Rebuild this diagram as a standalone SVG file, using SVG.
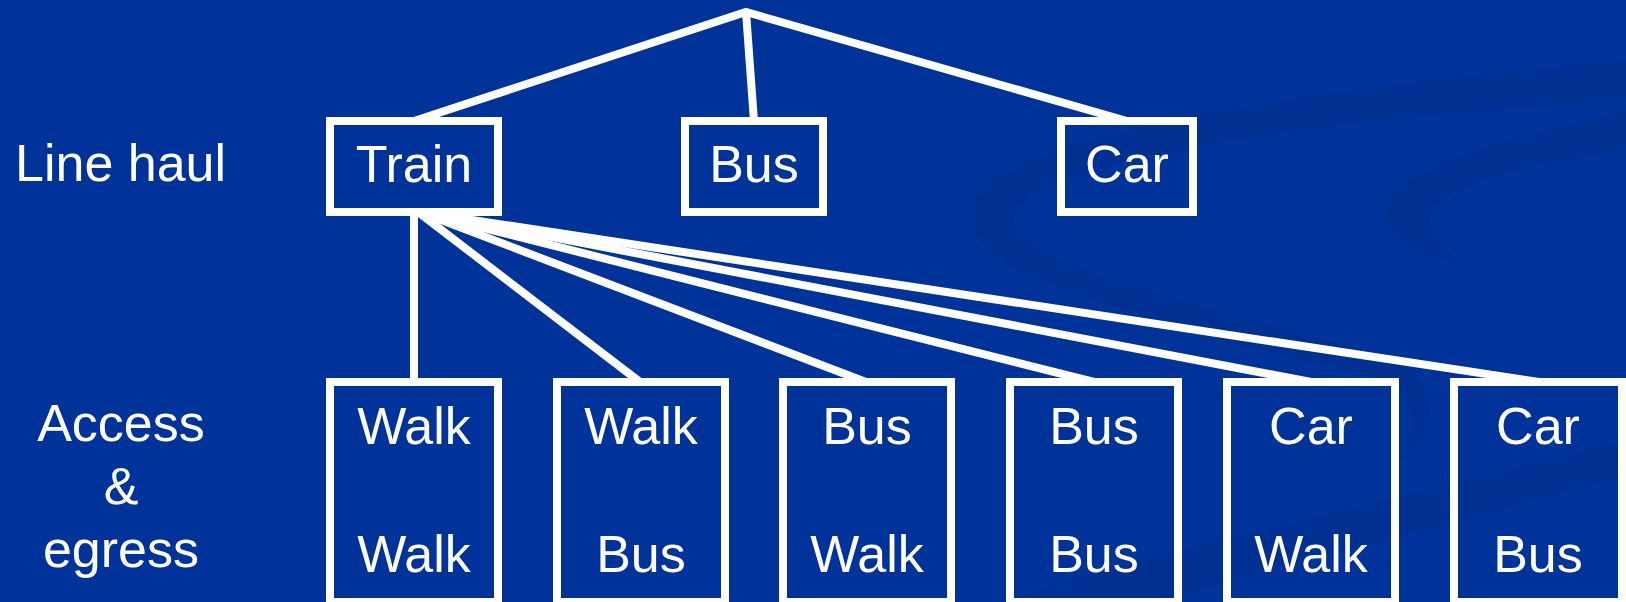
<svg xmlns="http://www.w3.org/2000/svg" width="1626" height="602" viewBox="0 0 1626 602">
<style>
.bg{fill:#003399}
.sw{fill:#00297f;opacity:0.25}
.box{fill:none;stroke:#ffffff;stroke-width:8}
.conn{fill:none;stroke:#ffffff;stroke-width:8;stroke-linejoin:miter}
text{font-family:"Liberation Sans",Arial,sans-serif;font-size:52px;fill:#ffffff}
.c{text-anchor:middle}
</style>
<rect class="bg" x="0" y="0" width="1626" height="602"/>
<g id="background-swooshes">
<path class="sw" d="M1626,62 C1400,80 1100,120 1000,175 C960,200 965,240 1010,265 C1100,310 1250,350 1390,380 C1420,400 1420,440 1390,470 C1440,430 1440,390 1400,360 C1250,320 1080,280 1030,245 C1000,225 1010,200 1060,180 C1200,130 1450,110 1626,100 Z"/>
<path class="sw" d="M1626,112 C1500,140 1400,170 1385,205 C1375,235 1420,255 1470,265 C1440,250 1425,230 1430,212 C1450,180 1540,160 1626,150 Z"/>
<path class="sw" d="M1000,602 C1200,540 1450,490 1626,440 L1626,475 C1450,522 1250,575 1150,602 Z"/>
</g>
<g id="connectors">
<polyline class="conn" points="414,121 746,12 1127,121"/>
<line class="conn" x1="746" y1="12" x2="754" y2="121"/>
<line class="conn" x1="414" y1="212" x2="414" y2="382"/>
<line class="conn" x1="418" y1="212" x2="640" y2="382"/>
<line class="conn" x1="420" y1="212" x2="866" y2="382"/>
<line class="conn" x1="420" y1="212" x2="1094" y2="382"/>
<line class="conn" x1="420" y1="212" x2="1311" y2="382"/>
<line class="conn" x1="420" y1="212" x2="1539" y2="382"/>
</g>
<g id="label-line-haul"><text x="15" y="181">Line haul</text></g>
<g id="label-access-egress">
<text class="c" x="121" y="441">Access</text>
<text class="c" x="121" y="504">&amp;</text>
<text class="c" x="121" y="567">egress</text>
</g>
<g id="node-train"><rect class="box" x="330" y="121" width="168" height="91"/><text class="c" x="414" y="182">Train</text></g>
<g id="node-bus"><rect class="box" x="685" y="121" width="138" height="91"/><text class="c" x="754" y="182">Bus</text></g>
<g id="node-car"><rect class="box" x="1061" y="121" width="132" height="91"/><text class="c" x="1127" y="182">Car</text></g>
<g id="node-walk-walk"><rect class="box" x="330" y="382" width="168" height="220"/><text class="c" x="414" y="444">Walk</text><text class="c" x="414" y="572">Walk</text></g>
<g id="node-walk-bus"><rect class="box" x="557" y="382" width="168" height="220"/><text class="c" x="641" y="444">Walk</text><text class="c" x="641" y="572">Bus</text></g>
<g id="node-bus-walk"><rect class="box" x="783" y="382" width="168" height="220"/><text class="c" x="867" y="444">Bus</text><text class="c" x="867" y="572">Walk</text></g>
<g id="node-bus-bus"><rect class="box" x="1010" y="382" width="168" height="220"/><text class="c" x="1094" y="444">Bus</text><text class="c" x="1094" y="572">Bus</text></g>
<g id="node-car-walk"><rect class="box" x="1227" y="382" width="168" height="220"/><text class="c" x="1311" y="444">Car</text><text class="c" x="1311" y="572">Walk</text></g>
<g id="node-car-bus"><rect class="box" x="1454" y="382" width="168" height="220"/><text class="c" x="1538" y="444">Car</text><text class="c" x="1538" y="572">Bus</text></g>
</svg>
